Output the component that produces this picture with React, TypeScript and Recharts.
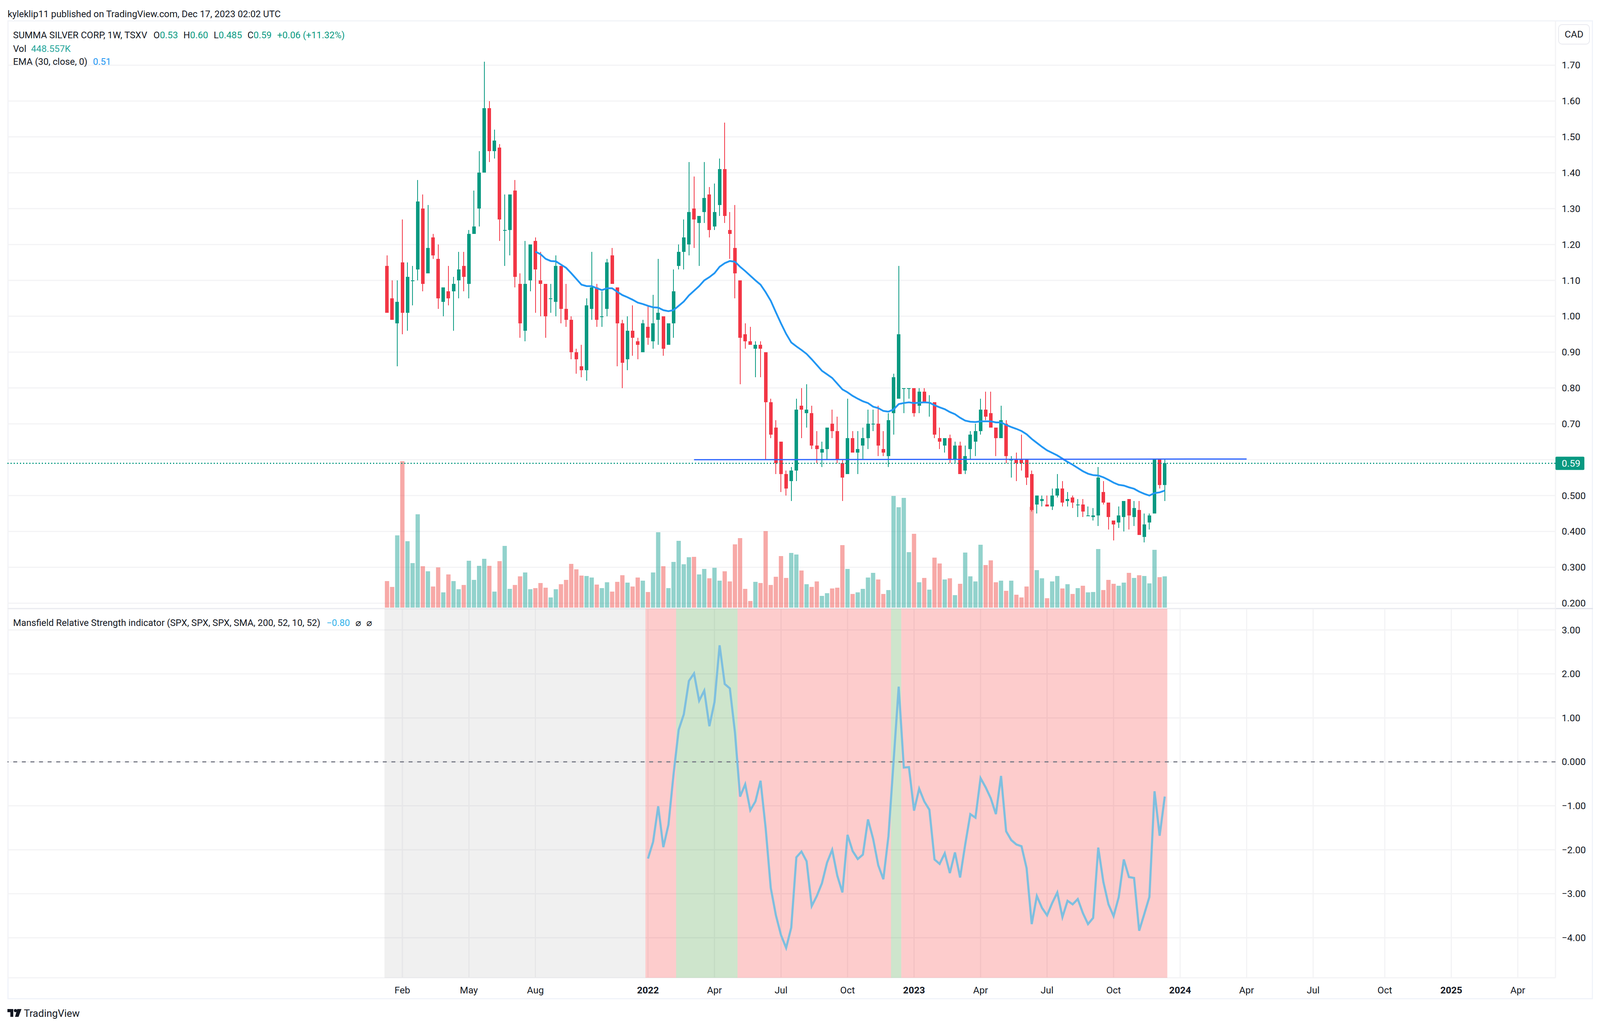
import React from "react";
import {
  Bar,
  CartesianGrid,
  Cell,
  ComposedChart,
  Line,
  ReferenceArea,
  ReferenceLine,
  XAxis,
  YAxis,
} from "recharts";

// weekly bars, index 0 = Jan 2021
const opens = [
  1.14, 1.05, 0.98, 1.15, 1.01, 1.1, 1.13, 1.3, 1.12, 1.22,
  1.16, 1.04, 1.07, 1.07, 1.1, 1.14, 1.09, 1.23, 1.3, 1.4,
  1.58, 1.46, 1.47, 1.24, 1.24, 1.35, 1.09, 0.96, 1.1, 1.21,
  1.1, 1.09, 1.05, 1.04, 1.14, 1.02, 0.99, 0.9, 0.86, 0.85,
  1.02, 1.08, 1.0, 1.02, 1.17, 1.08, 0.98, 0.88, 0.96, 0.93,
  0.9, 0.97, 0.93, 0.99, 1.0, 0.92, 0.98, 1.14, 1.18, 1.2,
  1.3, 1.26, 1.29, 1.34, 1.25, 1.31, 1.41, 1.24, 1.19, 1.1,
  0.95, 0.93, 0.91, 0.92, 0.9, 0.76, 0.69, 0.65, 0.56, 0.54,
  0.57, 0.75, 0.73, 0.73, 0.64, 0.62, 0.63, 0.7, 0.68, 0.59,
  0.56, 0.66, 0.62, 0.64, 0.66, 0.7, 0.7, 0.63, 0.61, 0.73,
  0.77, 0.8, 0.8, 0.8, 0.75, 0.79, 0.76, 0.76, 0.66, 0.64,
  0.66, 0.6, 0.64, 0.57, 0.63, 0.65, 0.68, 0.74, 0.73, 0.69,
  0.66, 0.7, 0.6, 0.6, 0.6, 0.6, 0.56, 0.475, 0.485, 0.475,
  0.47, 0.5, 0.52, 0.485, 0.495, 0.475, 0.475, 0.445, 0.44, 0.445,
  0.51, 0.48, 0.43, 0.425, 0.44, 0.49, 0.44, 0.46, 0.385, 0.425,
  0.45, 0.6, 0.53,
];
const closes = [
  1.01, 0.99, 1.04, 1.01, 1.11, 1.1, 1.32, 1.09, 1.19, 1.17,
  1.05, 1.08, 1.05, 1.09, 1.13, 1.11, 1.23, 1.25, 1.4, 1.58,
  1.46, 1.49, 1.27, 1.24, 1.34, 1.11, 0.98, 1.09, 1.2, 1.13,
  1.09, 1.0, 1.05, 1.14, 1.02, 0.99, 0.9, 0.88, 0.85, 1.03,
  1.08, 0.99, 1.0, 1.15, 1.09, 0.98, 0.87, 0.96, 0.94, 0.92,
  0.98, 0.94, 0.98, 1.01, 0.91, 0.98, 1.07, 1.18, 1.22, 1.29,
  1.27, 1.28, 1.33, 1.24, 1.29, 1.41, 1.28, 1.23, 1.12, 0.94,
  0.93, 0.92, 0.92, 0.91, 0.76, 0.67, 0.59, 0.56, 0.52, 0.57,
  0.74, 0.74, 0.74, 0.64, 0.63, 0.63, 0.69, 0.68, 0.6, 0.55,
  0.66, 0.62, 0.63, 0.66, 0.7, 0.7, 0.64, 0.62, 0.71, 0.83,
  0.95, 0.8, 0.8, 0.73, 0.79, 0.76, 0.76, 0.67, 0.65, 0.66,
  0.6, 0.64, 0.56, 0.61, 0.67, 0.68, 0.74, 0.72, 0.69, 0.66,
  0.71, 0.61, 0.6, 0.59, 0.59, 0.55, 0.46, 0.5, 0.49, 0.47,
  0.5, 0.52, 0.48, 0.49, 0.48, 0.475, 0.455, 0.445, 0.445, 0.55,
  0.48, 0.44, 0.42, 0.445, 0.485, 0.445, 0.465, 0.39, 0.42, 0.445,
  0.6, 0.53, 0.59,
];
const highs = [
  1.17, 1.1, 1.1, 1.27, 1.15, 1.14, 1.38, 1.34, 1.31, 1.23,
  1.2, 1.08, 1.14, 1.11, 1.18, 1.18, 1.24, 1.35, 1.46, 1.71,
  1.6, 1.52, 1.48, 1.34, 1.34, 1.38, 1.12, 1.21, 1.2, 1.22,
  1.18, 1.09, 1.09, 1.17, 1.14, 1.09, 1.0, 0.91, 0.92, 1.05,
  1.18, 1.09, 1.07, 1.16, 1.19, 1.08, 0.99, 1.0, 1.03, 0.94,
  0.99, 1.03, 1.06, 1.16, 1.0, 0.98, 1.13, 1.2, 1.27, 1.43,
  1.39, 1.28, 1.43, 1.36, 1.37, 1.44, 1.54, 1.29, 1.31, 1.1,
  0.98, 0.97, 0.93, 0.93, 0.9, 0.77, 0.71, 0.65, 0.57, 0.58,
  0.77, 0.8, 0.81, 0.75, 0.68, 0.65, 0.69, 0.74, 0.72, 0.6,
  0.77, 0.68, 0.68, 0.69, 0.74, 0.74, 0.75, 0.68, 0.73, 0.84,
  1.14, 0.8, 0.8, 0.8, 0.8, 0.8, 0.78, 0.76, 0.69, 0.66,
  0.67, 0.65, 0.65, 0.64, 0.68, 0.7, 0.77, 0.79, 0.79, 0.69,
  0.75, 0.71, 0.61, 0.62, 0.67, 0.6, 0.57, 0.5, 0.5, 0.5,
  0.52, 0.56, 0.54, 0.51, 0.5, 0.49, 0.49, 0.47, 0.465, 0.58,
  0.54, 0.48, 0.43, 0.47, 0.485, 0.49, 0.485, 0.485, 0.45, 0.45,
  0.6, 0.6, 0.6,
];
const lows = [
  1.01, 0.99, 0.86, 0.95, 0.96, 1.03, 1.1, 1.07, 1.12, 1.16,
  1.02, 1.0, 1.03, 0.96, 1.05, 1.07, 1.05, 1.23, 1.25, 1.4,
  1.43, 1.44, 1.21, 1.14, 1.17, 1.08, 0.94, 0.93, 1.07, 1.01,
  1.0, 0.94, 1.01, 1.0, 0.98, 0.97, 0.88, 0.84, 0.83, 0.82,
  0.99, 0.97, 0.97, 1.0, 1.09, 0.86, 0.8, 0.85, 0.89, 0.88,
  0.9, 0.92, 0.91, 0.92, 0.89, 0.92, 0.94, 1.13, 1.13, 1.17,
  1.19, 1.14, 1.26, 1.22, 1.24, 1.28, 1.26, 1.16, 1.05, 0.81,
  0.91, 0.92, 0.83, 0.83, 0.6, 0.66, 0.56, 0.51, 0.5, 0.485,
  0.54, 0.66, 0.69, 0.63, 0.59, 0.58, 0.6, 0.66, 0.59, 0.485,
  0.56, 0.62, 0.56, 0.6, 0.63, 0.68, 0.61, 0.61, 0.58, 0.67,
  0.77, 0.73, 0.77, 0.72, 0.73, 0.76, 0.72, 0.66, 0.63, 0.62,
  0.59, 0.59, 0.56, 0.56, 0.6, 0.61, 0.67, 0.71, 0.69, 0.61,
  0.66, 0.59, 0.55, 0.54, 0.57, 0.53, 0.455, 0.45, 0.47, 0.47,
  0.46, 0.495, 0.47, 0.47, 0.465, 0.44, 0.44, 0.445, 0.43, 0.415,
  0.475, 0.405, 0.375, 0.41, 0.4, 0.405, 0.415, 0.39, 0.37, 0.405,
  0.45, 0.52, 0.485,
];
// volume in thousands
const volumes = [
  381, 297, 1037, 2103, 953, 639, 1340, 594, 521, 303,
  578, 219, 477, 381, 264, 325, 673, 398, 600, 701,
  600, 230, 667, 886, 269, 325, 449, 505, 264, 280,
  353, 286, 146, 264, 336, 398, 628, 549, 460, 454,
  432, 331, 280, 364, 230, 370, 465, 359, 303, 432,
  387, 224, 505, 1082, 594, 280, 656, 959, 622, 723,
  729, 477, 555, 421, 572, 387, 521, 376, 908, 998,
  269, 95, 370, 353, 1099, 325, 443, 740, 426, 785,
  763, 533, 336, 297, 376, 168, 207, 275, 286, 897,
  555, 196, 219, 269, 432, 499, 404, 196, 252, 1604,
  1441, 1576, 796, 1060, 364, 426, 258, 718, 634, 404,
  421, 179, 342, 791, 449, 376, 903, 611, 678, 364,
  387, 241, 387, 185, 146, 303, 1447, 538, 421, 135,
  376, 454, 275, 336, 196, 280, 314, 219, 224, 841,
  252, 398, 342, 314, 359, 499, 426, 465, 454, 348,
  830, 437, 449,
];
const emaFirstBar = 29;
const emaValues = [
  1.18, 1.173, 1.16, 1.154, 1.153, 1.144, 1.135, 1.12, 1.104, 1.088,
  1.084, 1.084, 1.078, 1.073, 1.078, 1.078, 1.068, 1.059, 1.053, 1.046,
  1.038, 1.034, 1.029, 1.025, 1.024, 1.017, 1.014, 1.017, 1.029, 1.041,
  1.058, 1.071, 1.084, 1.1, 1.109, 1.12, 1.138, 1.148, 1.154, 1.152,
  1.138, 1.126, 1.113, 1.1, 1.088, 1.067, 1.043, 1.011, 0.98, 0.951,
  0.927, 0.916, 0.906, 0.895, 0.88, 0.864, 0.848, 0.838, 0.828, 0.812,
  0.796, 0.788, 0.778, 0.77, 0.763, 0.758, 0.748, 0.744, 0.736, 0.734,
  0.74, 0.755, 0.758, 0.76, 0.758, 0.759, 0.76, 0.759, 0.752, 0.746,
  0.741, 0.733, 0.727, 0.717, 0.709, 0.706, 0.705, 0.707, 0.707, 0.707,
  0.704, 0.704, 0.697, 0.691, 0.686, 0.68, 0.671, 0.658, 0.647, 0.636,
  0.626, 0.619, 0.612, 0.603, 0.594, 0.586, 0.577, 0.568, 0.561, 0.557,
  0.556, 0.551, 0.544, 0.536, 0.53, 0.528, 0.523, 0.519, 0.511, 0.505,
  0.5, 0.507, 0.509, 0.514,
];
const mrsFirstBar = 51;
const mrsValues = [
  -2.2, -1.82, -1.01, -1.94, -1.43, -0.28, 0.73, 1.08, 1.84, 2.01,
  1.39, 1.62, 0.81, 1.36, 2.65, 1.77, 1.67, 0.67, -0.79, -0.51,
  -1.1, -0.9, -0.43, -1.51, -2.87, -3.49, -3.94, -4.23, -3.77, -2.17,
  -2.04, -2.26, -3.28, -3.05, -2.76, -2.29, -2.0, -2.59, -2.97, -1.66,
  -2.03, -2.21, -2.11, -1.31, -1.75, -2.35, -2.67, -1.69, 0.01, 1.71,
  -0.13, -0.12, -1.11, -0.61, -0.9, -1.09, -2.22, -2.32, -2.08, -2.53,
  -2.06, -2.63, -1.88, -1.19, -1.27, -0.37, -0.58, -0.83, -1.19, -0.32,
  -1.58, -1.78, -1.88, -1.92, -2.42, -3.69, -3.05, -3.32, -3.49, -3.21,
  -2.97, -3.53, -3.16, -3.24, -3.12, -3.44, -3.69, -3.55, -1.95, -2.73,
  -3.24, -3.51, -3.08, -2.22, -2.62, -2.64, -3.84, -3.46, -3.07, -0.67,
  -1.68, -0.79,
];

// background zones of the indicator, as first bar of each zone
const zoneStarts = [0, 51, 57, 69, 99, 101];
const zoneEnd = 153;
const zoneKinds = ["none", "down", "up", "down", "up", "down"];

const timeTicks = [3, 16, 29, 51, 64, 77, 90, 103, 116, 129, 142, 155, 168, 181, 195, 208, 221];
const timeLabels = ["Feb", "May", "Aug", "2022", "Apr", "Jul", "Oct", "2023", "Apr", "Jul", "Oct", "2024", "Apr", "Jul", "Oct", "2025", "Apr"];
const priceTicks = [1.7, 1.6, 1.5, 1.4, 1.3, 1.2, 1.1, 1.0, 0.9, 0.8, 0.7, 0.6, 0.5, 0.4, 0.3, 0.2];
// 0.60 sits behind the last price badge, so it has no label of its own
const priceLabels = ["1.70", "1.60", "1.50", "1.40", "1.30", "1.20", "1.10", "1.00", "0.90", "0.80", "0.70", "", "0.500", "0.400", "0.300", "0.200"];
const mrsTicks = [3, 2, 1, 0, -1, -2, -3, -4];
const mrsLabels = ["3.00", "2.00", "1.00", "0.000", "\u22121.00", "\u22122.00", "\u22123.00", "\u22124.00"];

const lastClose = 0.59;
const trendLine = [{ x: 60, y: 0.6 }, { x: 168, y: 0.602 }];

const rows = opens.map((open, i) => ({
  bar: i,
  open,
  close: closes[i],
  high: highs[i],
  low: lows[i],
  vol: volumes[i],
  ema: i >= emaFirstBar ? emaValues[i - emaFirstBar] : null,
  mrs: i >= mrsFirstBar ? mrsValues[i - mrsFirstBar] : null,
}));

// the browser window stops at 4096 wide, so the layout is narrowed to it
const PAGE_W = 4096;
const FRAME_LEFT = 18.5;
const CHART_W = 4059;
const AXIS_W = 96;
const FONT = "Roboto, sans-serif";
const FONT_SIZE = 24.5;
const LEGEND_SIZE = 23.8;
const INK = "#131722";
const UP = "#089981";
const DOWN = "#f23645";
const GRID = "#f3f3f5";
const X_DOMAIN: [number, number] = [-74.19, 228.36];
const zoneFill: Record<string, string> = { none: "#b4b4b4", down: "#f50000", up: "#0a7d00" };

const Candle = (props: any) => {
  const { x, y, width, height, payload } = props;
  const { open, close, high, low } = payload;
  const at = (v: number) => y + ((high - v) / (high - low)) * height;
  const color = close >= open ? UP : DOWN;
  const top = at(Math.max(open, close));
  const bodyH = Math.max(at(Math.min(open, close)) - top, 2);
  const mid = x + width / 2;
  return (
    <g shapeRendering="crispEdges">
      <rect x={mid - 1} y={y} width={2} height={height} fill={color} />
      <rect x={x} y={top} width={width} height={bodyH} fill={color} />
    </g>
  );
};

const TimeTick = (props: any) => {
  const { x, y, payload } = props;
  const label = timeLabels[timeTicks.indexOf(payload.value)];
  const isYear = label.length === 4;
  return (
    <text x={x} y={y + 29} textAnchor="middle" dominantBaseline="central" fontFamily={FONT} fontSize={FONT_SIZE} fontWeight={isYear ? 700 : 400} fill={INK}>
      {label}
    </text>
  );
};

// value labels are left aligned inside the price scale
const ValueTick = (props: any) => {
  const { y, payload, ticks, labels } = props;
  const label = labels[ticks.indexOf(payload.value)];
  if (!label) return <g />;
  return (
    <text x={CHART_W - AXIS_W + 16} y={y} textAnchor="start" dominantBaseline="central" fontFamily={FONT} fontSize={FONT_SIZE} fill={INK}>
      {label}
    </text>
  );
};

const LastPriceLabel = (props: any) => {
  const { viewBox } = props;
  const left = viewBox.x + viewBox.width;
  return (
    <g>
      <rect x={left} y={viewBox.y - 17} width={74} height={34} rx={3} fill={UP} />
      <text x={left + 16} y={viewBox.y} dominantBaseline="central" fontFamily={FONT} fontSize={FONT_SIZE} fill="#ffffff">
        {lastClose.toFixed(2)}
      </text>
    </g>
  );
};

const abs = (left: number, top: number): React.CSSProperties => ({
  position: "absolute",
  left,
  top,
  whiteSpace: "pre",
  fontFamily: FONT,
  fontSize: LEGEND_SIZE,
  lineHeight: "30px",
  color: INK,
});

const App = () => (
  <div style={{ position: "absolute", left: 0, top: 0, width: PAGE_W, height: 2630, background: "#ffffff", overflow: "hidden" }}>
    <div style={{ position: "absolute", left: FRAME_LEFT, top: 52, width: CHART_W, height: 2507, boxSizing: "border-box", border: "3px solid #f0f3fa" }} />
    <div style={{ position: "absolute", left: FRAME_LEFT, top: 1557, width: CHART_W, height: 3, background: "#e0e3eb" }} />

    <div style={{ position: "absolute", left: FRAME_LEFT, top: 53 }}>
      <ComposedChart width={CHART_W} height={1505} data={rows} margin={{ top: 0, right: 0, bottom: 0, left: 0 }}>
        <CartesianGrid stroke={GRID} strokeWidth={3} />
        <XAxis dataKey="bar" type="number" domain={X_DOMAIN} ticks={timeTicks} height={0} tick={false} axisLine={false} tickLine={false} interval={0} allowDataOverflow />
        <XAxis xAxisId="vol" dataKey="bar" type="number" domain={X_DOMAIN} hide allowDataOverflow />
        <YAxis orientation="right" width={AXIS_W} type="number" domain={[0.1855, 1.824]} ticks={priceTicks} interval={0} allowDataOverflow
          axisLine={false} tickLine={false} tick={<ValueTick ticks={priceTicks} labels={priceLabels} />} />
        <YAxis yAxisId="vol" type="number" domain={[-11.2, 8427]} hide allowDataOverflow />
        <Bar xAxisId="vol" yAxisId="vol" dataKey="vol" barSize={11} isAnimationActive={false}>
          {rows.map((r) => (
            <Cell key={r.bar} fill={r.close >= r.open ? "#26a69a" : "#ef5350"} fillOpacity={0.5} />
          ))}
        </Bar>
        <ReferenceLine y={lastClose} stroke={UP} strokeWidth={3} strokeDasharray="3 5" label={<LastPriceLabel />} />
        <Line dataKey="ema" stroke="#2196f3" strokeWidth={4.5} dot={false} activeDot={false} isAnimationActive={false} />
        <Bar dataKey={(r: any) => [r.low, r.high]} barSize={9} shape={<Candle />} isAnimationActive={false} />
        <ReferenceLine segment={trendLine} stroke="#2962ff" strokeWidth={3} />
      </ComposedChart>
    </div>

    <div style={{ position: "absolute", left: FRAME_LEFT, top: 1559 }}>
      <ComposedChart width={CHART_W} height={1000} data={rows} margin={{ top: 0, right: 0, bottom: 0, left: 0 }}>
        <CartesianGrid stroke={GRID} strokeWidth={3} />
        <XAxis dataKey="bar" type="number" domain={X_DOMAIN} ticks={timeTicks} height={55} interval={0} allowDataOverflow axisLine={false} tickLine={false} tickSize={0} tick={<TimeTick />} />
        <YAxis orientation="right" width={AXIS_W} type="number" domain={[-4.911, 3.481]} ticks={mrsTicks} interval={0} allowDataOverflow
          axisLine={false} tickLine={false} tick={<ValueTick ticks={mrsTicks} labels={mrsLabels} />} />
        {zoneStarts.map((start, i) => (
          <ReferenceArea key={start} x1={start - 0.5} x2={(i + 1 < zoneStarts.length ? zoneStarts[i + 1] : zoneEnd) - 0.5}
            fill={zoneFill[zoneKinds[i]]} fillOpacity={0.2} stroke="none" />
        ))}
        <ReferenceLine y={0} stroke="#787b86" strokeWidth={3} strokeDasharray="10 12" />
        <Line dataKey="mrs" stroke="#7ebfdf" strokeWidth={5.5} dot={false} activeDot={false} isAnimationActive={false} />
      </ComposedChart>
    </div>

    <div style={abs(19.5, 21)}>kyleklip11 published on TradingView.com, Dec 17, 2023 02:02 UTC</div>
    <div style={abs(33.5, 75)}>
      <span>SUMMA SILVER CORP, 1W, TSXV</span>
      <span style={{ marginLeft: 16 }}>O</span><span style={{ color: UP }}>0.53</span>
      <span style={{ marginLeft: 14 }}>H</span><span style={{ color: UP }}>0.60</span>
      <span style={{ marginLeft: 14 }}>L</span><span style={{ color: UP }}>0.485</span>
      <span style={{ marginLeft: 14 }}>C</span><span style={{ color: UP }}>0.59</span>
      <span style={{ marginLeft: 14, color: UP }}>+0.06 (+11.32%)</span>
    </div>
    <div style={abs(33.5, 110)}>
      <span>Vol</span><span style={{ marginLeft: 12, color: "#26a69a" }}>448.557K</span>
    </div>
    <div style={abs(33.5, 143)}>
      <span>EMA (30, close, 0)</span><span style={{ marginLeft: 14, color: "#2196f3" }}>0.51</span>
    </div>
    <div style={abs(33.5, 1580)}>
      <span>Mansfield Relative Strength indicator (SPX, SPX, SPX, SMA, 200, 52, 10, 52)</span>
      <span style={{ marginLeft: 16, color: "#2fb1ea" }}>{"\u22120.80"}</span>
      <span style={{ marginLeft: 14 }}>{"\u2300"}</span>
      <span style={{ marginLeft: 14 }}>{"\u2300"}</span>
    </div>

    <div style={{ ...abs(3989, 62), width: 81, height: 52, boxSizing: "border-box", border: "2px solid #e8e9ef", borderRadius: 10, textAlign: "center", lineHeight: "48px", fontSize: FONT_SIZE }}>CAD</div>

    <svg style={{ position: "absolute", left: FRAME_LEFT, top: 2584 }} width={37} height={20}>
      <path d="M0 0H15V20H7.5V8H0Z M25 0H36L28.5 20H19.5Z" fill={INK} />
      <circle cx={20.5} cy={4} r={4} fill={INK} />
    </svg>
    <div style={{ ...abs(61, 2578), fontSize: 26, lineHeight: "34px" }}>TradingView</div>
  </div>
);

export default App;
